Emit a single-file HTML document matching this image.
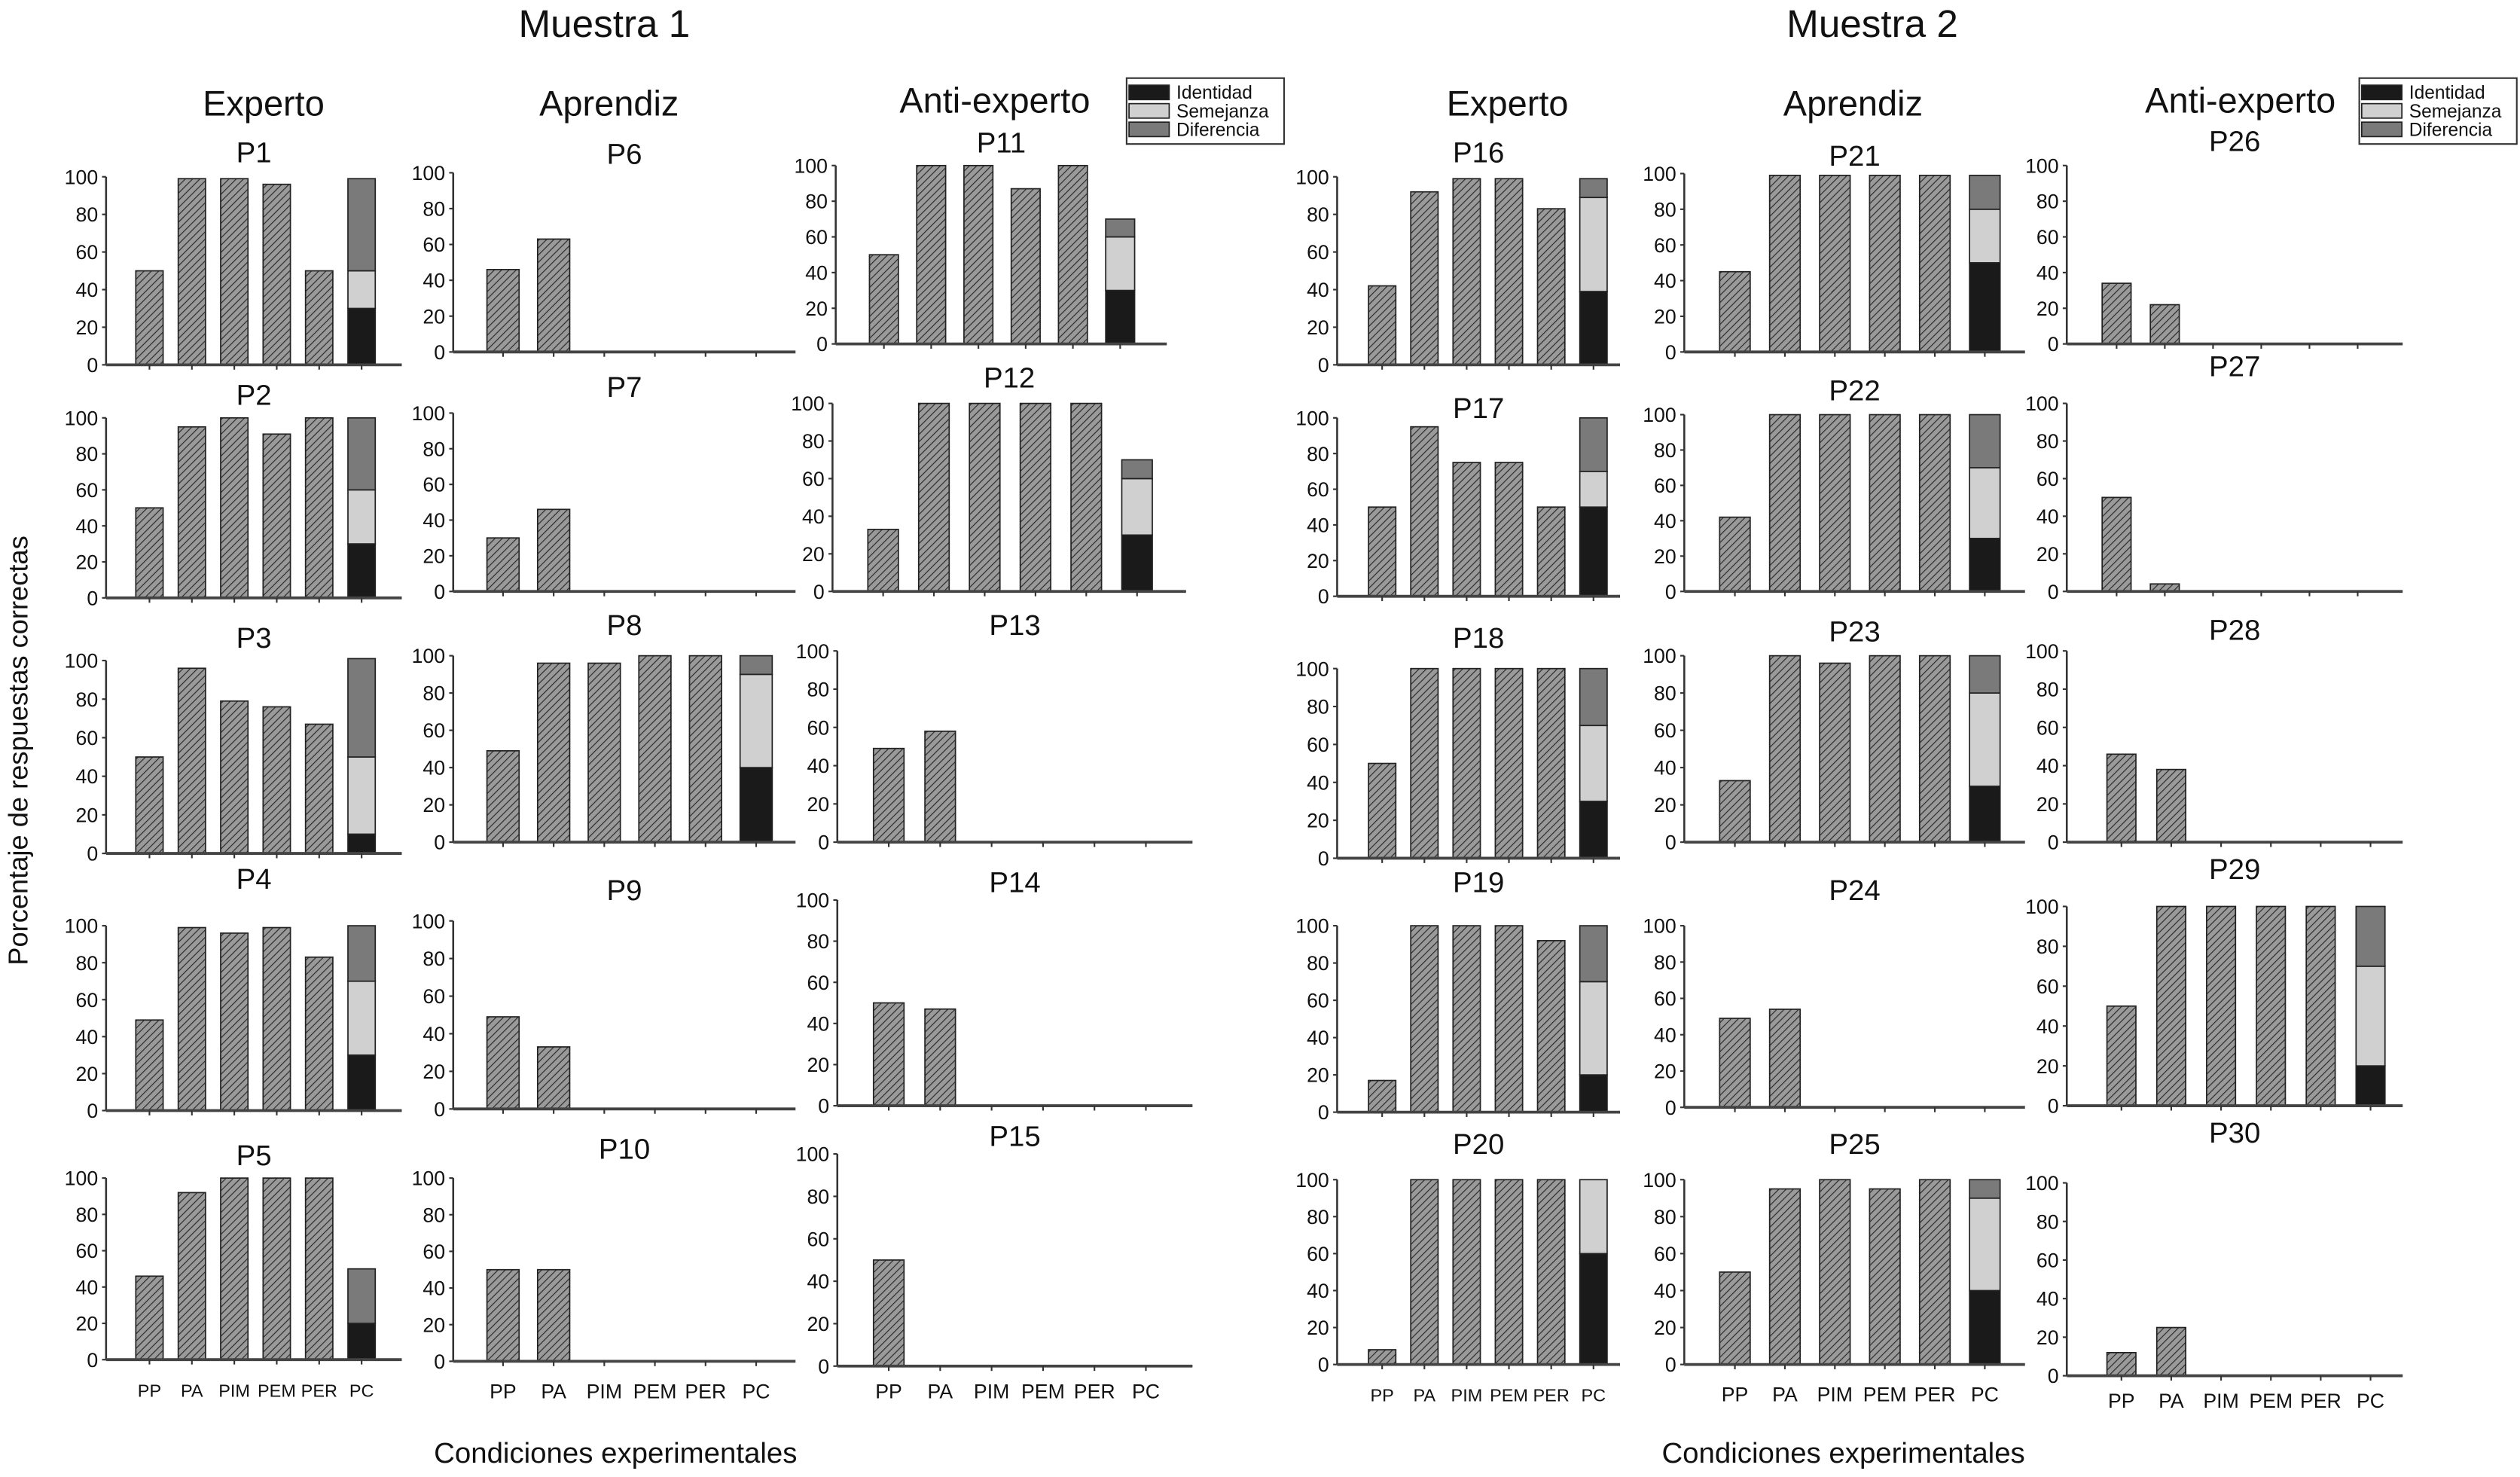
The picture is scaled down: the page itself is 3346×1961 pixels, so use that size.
<!DOCTYPE html>
<html><head><meta charset="utf-8"><style>
html,body{margin:0;padding:0;background:#fff}
svg{display:block}
text{font-family:"Liberation Sans",sans-serif;fill:#111}
</style></head><body>
<svg id="chart" width="3346" height="1961" viewBox="0 0 1568 919" preserveAspectRatio="none" xmlns="http://www.w3.org/2000/svg">
<defs>
<pattern id="hatch" patternUnits="userSpaceOnUse" width="3.2" height="3.2" patternTransform="rotate(45)">
<rect width="3.2" height="3.2" fill="#9a9a9a"/><line x1="0" y1="0" x2="0" y2="3.2" stroke="#2a2a2a" stroke-width="1.1"/>
</pattern>
</defs>
<text x="376" y="23" font-size="24" text-anchor="middle">Muestra 1</text>
<text x="1165" y="23" font-size="24" text-anchor="middle">Muestra 2</text>
<text x="164" y="72" font-size="22" text-anchor="middle">Experto</text>
<text x="379" y="72" font-size="22" text-anchor="middle">Aprendiz</text>
<text x="619" y="70" font-size="22" text-anchor="middle">Anti-experto</text>
<text x="938" y="72" font-size="22" text-anchor="middle">Experto</text>
<text x="1153" y="72" font-size="22" text-anchor="middle">Aprendiz</text>
<text x="1394" y="70" font-size="22" text-anchor="middle">Anti-experto</text>
<text transform="translate(17,467) rotate(-90)" font-size="17" text-anchor="middle">Porcentaje de respuestas correctas</text>
<text x="383" y="910" font-size="18" text-anchor="middle">Condiciones experimentales</text>
<text x="1147" y="910" font-size="18" text-anchor="middle">Condiciones experimentales</text>
<g id="plots"></g>
</svg>
<script>
const categories = ['PP','PA','PIM','PEM','PER','PC'];
const yTicks = [0,20,40,60,80,100];
const panelNames = ['P1','P2','P3','P4','P5','P6','P7','P8','P9','P10','P11','P12','P13','P14','P15','P16','P17','P18','P19','P20','P21','P22','P23','P24','P25','P26','P27','P28','P29','P30'];
const barValues = [
 [50,99,99,96,50],[50,95,100,91,100],[50,96,79,76,67],[49,99,96,99,83],[46,92,100,100,100],
 [46,63],[30,46],[49,96,96,100,100],[49,33],[50,50],
 [50,100,100,87,100],[33,100,100,100,100],[49,58],[50,47],[50],
 [42,92,99,99,83],[50,95,75,75,50],[50,100,100,100,100],[17,100,100,100,92],[8,100,100,100,100],
 [45,99,99,99,99],[42,100,100,100,100],[33,100,96,100,100],[49,54],[50,95,100,95,100],
 [34,22],[50,4],[46,38],[50,100,100,100,100],[12,25]
];
const identidad  = [30,30,10,30,20, 0,0,40,0,0, 30,30,0,0,0, 39,50,30,20,60, 50,30,30,0,40, 0,0,0,20,0];
const semejanza  = [20,30,40,40,0,  0,0,50,0,0, 30,30,0,0,0, 50,20,40,50,40, 30,40,50,0,50, 0,0,0,50,0];
const diferencia = [49,40,51,30,30, 0,0,10,0,0, 10,10,0,0,0, 10,30,30,30,0,  19,30,20,0,10, 0,0,0,30,0];
const legendLabels = ['Identidad','Semejanza','Diferencia'];
const legendColors = ['#1a1a1a','#d0d0d0','#7a7a7a'];

// layout (not data)
const colGeom = [
 {ax:66,end:250,first:93,step:26.4,w:17},
 {ax:282,end:495,first:313,step:31.5,w:20},
 {ax:521,end:742,first:553,step:32,w:19},
 {ax:832,end:1008,first:860,step:26.3,w:17},
 {ax:1048,end:1260,first:1079.5,step:31.1,w:19},
 {ax:1286,end:1495,first:1320,step:31,w:18}
];
const tops  = [110,260,411,576,733, 107.5,257,408,573,733, 103,251,405,560,718, 110,260,416,576,734, 108,258,408,576,734, 103,251,405,564,736];
const zeros = [227,372,531,691,846, 219,368,524,690,847, 214,368,524,688,850, 227,371,534,692,849, 219,368,524,689,849, 214,368,524,688,856];
const titleY= [101,252,403,553,725, 102,247,395,560,721, 95,241,395,555,713, 101,260,403,555,718, 103,249,399,560,718, 94,234,398,547,711];

const NS='http://www.w3.org/2000/svg';
const root=document.getElementById('plots');
function mk(tag,attrs,parent){const e=document.createElementNS(NS,tag);for(const k in attrs)e.setAttribute(k,attrs[k]);(parent||root).appendChild(e);return e;}

panelNames.forEach((name,i)=>{
  const col=Math.floor(i/5), row=i%5;
  let g=Object.assign({},colGeom[col]);
  if(i===10){g.ax=520;g.end=726;g.first=550;g.step=29.4;g.w=18;}
  if(i===11){g.ax=518;g.end=738;g.first=549.5;g.step=31.6;g.w=19;}
  if(i===25||i===26){g.first=1317;g.step=30;}
  const top=tops[i], zero=zeros[i];
  const yS=v=>zero-(zero-top)*v/100;
  const xC=k=>g.first+g.step*k;
  const grp=mk('g',{});
  
  
  const t=mk('text',{x:(g.ax+g.end)/2,y:titleY[i],'font-size':18,'text-anchor':'middle'},grp);
  
  
  t.textContent=name;
  const ya=mk('line',{x1:g.ax,y1:top,x2:g.ax,y2:zero,stroke:'#333','stroke-width':1.2},grp);
  
  
  yTicks.forEach(v=>{
    mk('line',{x1:g.ax-2.5,x2:g.ax,y1:yS(v),y2:yS(v),stroke:'#333','stroke-width':1},grp);
    const tl=mk('text',{x:g.ax-5,y:yS(v)+4.5,'font-size':12.5,'text-anchor':'end'},grp);
    
    
    tl.textContent=v;
  });
  barValues[i].forEach((v,k)=>{
    const r=mk('rect',{x:xC(k)-g.w/2,y:yS(v),width:g.w,height:zero-yS(v),fill:'url(#hatch)',stroke:'#222','stroke-width':0.8},grp);
    
    
  });
  const stack=[identidad[i],semejanza[i],diferencia[i]];
  let acc=0;
  stack.forEach((v,s)=>{
    if(v<=0)return;
    const r=mk('rect',{x:xC(5)-g.w/2,y:yS(acc+v),width:g.w,height:yS(acc)-yS(acc+v),fill:legendColors[s],stroke:'#222','stroke-width':0.8},grp);
    
    
    acc+=v;
  });
  const xa=mk('line',{x1:g.ax,y1:zero,x2:g.end,y2:zero,stroke:'#444','stroke-width':1.8},grp);
  
  
  categories.forEach((c,k)=>{
    mk('line',{x1:xC(k),x2:xC(k),y1:zero,y2:zero+3,stroke:'#333','stroke-width':1},grp);
    if(row===4){
      const fs=(col===0||col===3)?11:12.5;
      const cl=mk('text',{x:xC(k),y:zero+(col===2||col===5?20:23),'font-size':fs,'text-anchor':'middle'},grp);
      
      
      cl.textContent=c;
    }
  });
});

[701,1468].forEach((lx,li)=>{
  const lg=mk('g',{});
  
  
  mk('rect',{x:lx,y:48.6,width:98,height:41,fill:'#fff',stroke:'#333','stroke-width':1},lg);
  legendLabels.forEach((lab,s)=>{
    const yy=53+s*11.5;
    const sw=mk('rect',{x:lx+1.5,y:yy,width:25,height:9,fill:legendColors[s],stroke:'#222','stroke-width':0.8},lg);
    
    
    const tx=mk('text',{x:lx+31,y:yy+8.5,'font-size':11.5},lg);
    
    
    tx.textContent=lab;
  });
});
</script>
</body></html>
